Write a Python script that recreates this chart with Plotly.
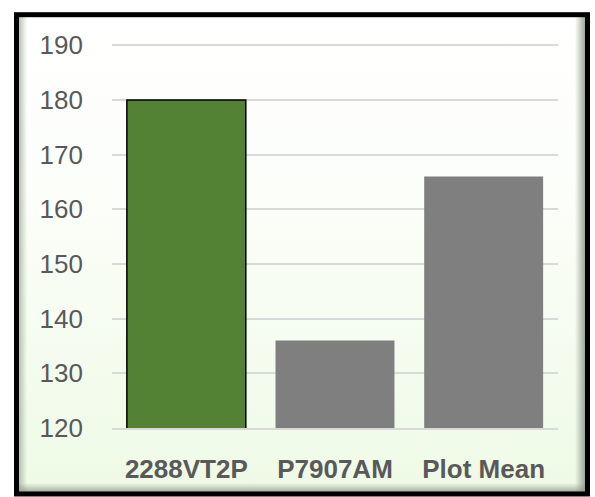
import base64
import plotly.graph_objects as go

categories = ["2288VT2P", "P7907AM", "Plot Mean"]
values = [180, 136, 166]
bar_colors = ["#548235", "#7F7F7F", "#7F7F7F"]
bar_line_colors = ["#000000", "#7F7F7F", "#7F7F7F"]
bar_line_widths = [1.5, 0, 0]
y_ticks = [120, 130, 140, 150, 160, 170, 180, 190]

W, H = 595, 497
pad_u = 0.4
unit_px = 383 / 70
L, R = 112, 37
T = 45 - pad_u * unit_px
B = 69
pw, ph = W - L - R, H - T - B

svg = f'''<svg xmlns="http://www.w3.org/2000/svg" width="{W}" height="{H}" viewBox="0 0 {W} {H}">
<defs>
<linearGradient id="bg" x1="0" y1="0" x2="0" y2="1">
<stop offset="0" stop-color="#FFFFFF"/><stop offset="0.35" stop-color="#FCFEFA"/><stop offset="1" stop-color="#EEFAE5"/>
</linearGradient>
<linearGradient id="lft" x1="0" y1="0" x2="1" y2="0">
<stop offset="0" stop-color="#A9B3A3" stop-opacity="0.9"/><stop offset="1" stop-color="#A9B3A3" stop-opacity="0"/>
</linearGradient>
<linearGradient id="rgt" x1="1" y1="0" x2="0" y2="0">
<stop offset="0" stop-color="#8E9888" stop-opacity="0.95"/><stop offset="1" stop-color="#8E9888" stop-opacity="0"/>
</linearGradient>
<linearGradient id="btm" x1="0" y1="1" x2="0" y2="0">
<stop offset="0" stop-color="#8E9888" stop-opacity="0.95"/><stop offset="1" stop-color="#8E9888" stop-opacity="0"/>
</linearGradient>
</defs>
<rect x="0" y="0" width="{W}" height="{H}" fill="#FFFFFF"/>
<rect x="17" y="15" width="570" height="482" fill="url(#bg)"/>
<rect x="18" y="16" width="9" height="478" fill="url(#lft)"/>
<rect x="575" y="16" width="11" height="478" fill="url(#rgt)"/>
<rect x="18" y="483" width="568" height="11" fill="url(#btm)"/>
<rect x="16.5" y="14.5" width="571" height="479.5" fill="none" stroke="#000000" stroke-width="5"/>
</svg>'''
src = "data:image/svg+xml;base64," + base64.b64encode(svg.encode()).decode()

fig = go.Figure()
fig.add_trace(go.Bar(
    x=categories, y=values,
    marker=dict(color=bar_colors, line=dict(color=bar_line_colors, width=bar_line_widths)),
    width=0.8, hoverinfo="skip",
))

fig.update_layout(
    width=W, height=H,
    margin=dict(l=L, r=R, t=T, b=B, pad=0),
    paper_bgcolor="#FFFFFF",
    plot_bgcolor="rgba(0,0,0,0)",
    showlegend=False,
    font=dict(family="Liberation Sans, Arial, sans-serif", color="#595959"),
    images=[dict(source=src, xref="paper", yref="paper",
                 x=-L / pw, y=1 + T / ph, sizex=W / pw, sizey=H / ph,
                 xanchor="left", yanchor="top", sizing="stretch", layer="below")],
    xaxis=dict(
        showgrid=False, zeroline=False,
        showline=True, linecolor="#D9D9D9", linewidth=1.5,
        tickfont=dict(size=26, color="#595959", family="Liberation Sans, Arial, sans-serif", weight="bold"),
        ticks="", ticklabelstandoff=17,
    ),
    yaxis=dict(
        range=[120, 190 + pad_u], tickvals=y_ticks,
        showgrid=True, gridcolor="#D9D9D9", gridwidth=1.5,
        zeroline=False, showline=False, ticks="",
        tickfont=dict(size=26, color="#595959"),
        ticklabelstandoff=28,
    ),
)
fig.write_html("out.html", config={"displayModeBar": False},
               post_script="document.body.style.margin='0';document.body.style.overflow='hidden';")
